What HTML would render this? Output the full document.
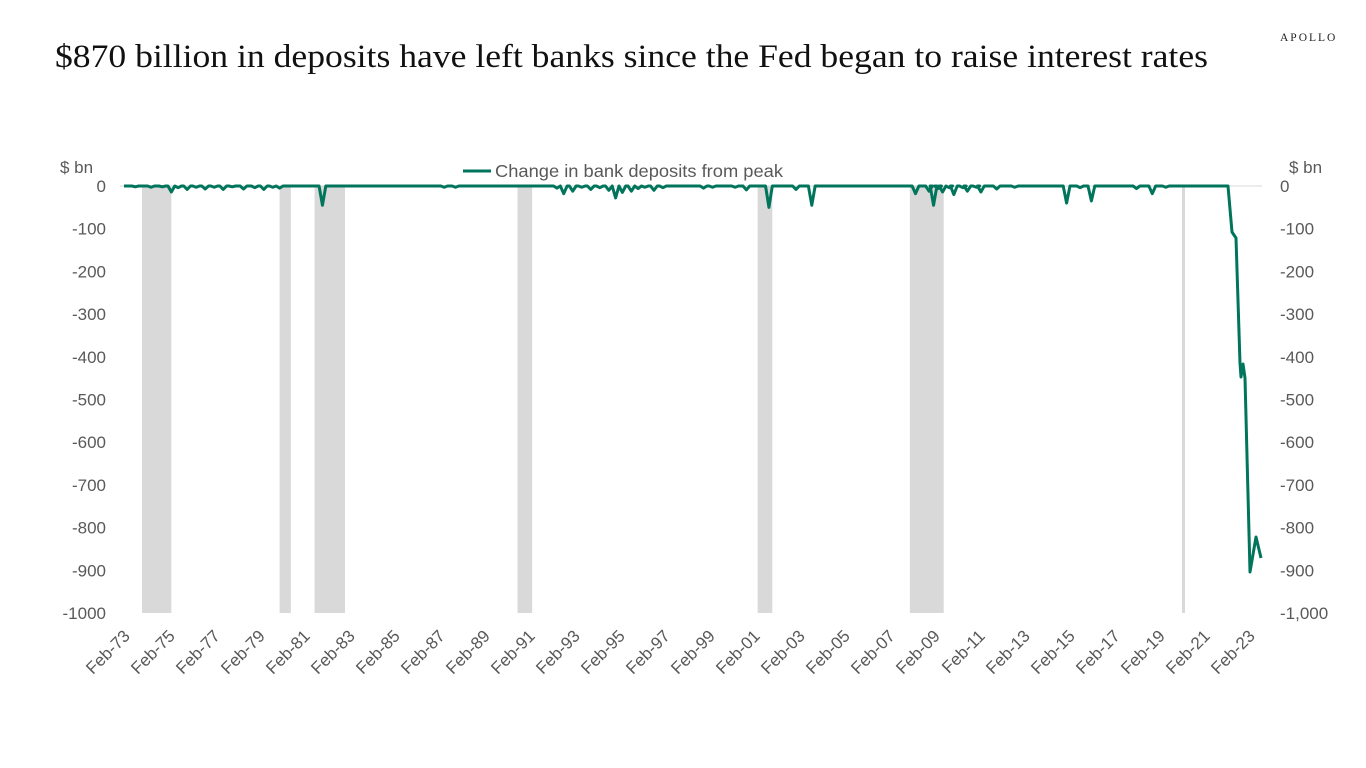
<!DOCTYPE html>
<html><head><meta charset="utf-8"><style>
html,body{margin:0;padding:0;background:#fff;}
svg{display:block;}
</style></head><body>
<svg id="s" width="1366" height="768" xmlns="http://www.w3.org/2000/svg">
<text x="55" y="67" font-family="'Liberation Serif',serif" font-size="33" fill="#111" textLength="1153" lengthAdjust="spacingAndGlyphs">$870 billion in deposits have left banks since the Fed began to raise interest rates</text>
<text x="1280" y="41" font-family="'Liberation Serif',serif" font-size="11.5" fill="#222" letter-spacing="2">APOLLO</text>
<g id="bars" fill="#d9d9d9"></g>
<line x1="120" y1="186" x2="1262" y2="186" stroke="#d9d9d9" stroke-width="1"/>
<g id="ylab" font-family="'Liberation Sans',sans-serif" font-size="17" fill="#595959"></g>
<g id="xlab" font-family="'Liberation Sans',sans-serif" font-size="17" fill="#595959"></g>
<text x="60" y="173" font-family="'Liberation Sans',sans-serif" font-size="17" fill="#595959">$ bn</text>
<text x="1289" y="173" font-family="'Liberation Sans',sans-serif" font-size="17" fill="#595959">$ bn</text>
<line x1="463" y1="171" x2="491" y2="171" stroke="#00755c" stroke-width="3"/>
<text x="495" y="177" font-family="'Liberation Sans',sans-serif" font-size="17.5" fill="#595959" textLength="288" lengthAdjust="spacingAndGlyphs">Change in bank deposits from peak</text>
<path id="ln" fill="none" stroke="#00755c" stroke-width="3" stroke-linejoin="round"/>
</svg>
<script>
var NS="http://www.w3.org/2000/svg";
function X(y){return 124+(y-1973.1)*22.55;}
function Y(v){return 186-v*0.427;}
function el(t,a,p,txt){var e=document.createElementNS(NS,t);for(var k in a)e.setAttribute(k,a[k]);if(txt!=null)e.textContent=txt;p.appendChild(e);return e;}
var bars=[[1973.9,1975.2],[1980.0,1980.5],[1981.55,1982.9],[1990.55,1991.2],[2001.2,2001.85],[2007.95,2009.45]];
var bg=document.getElementById('bars');
bars.forEach(function(b){el('rect',{x:X(b[0]),y:186,width:X(b[1])-X(b[0]),height:427},bg);});
el('rect',{x:1182,y:186,width:3,height:427},bg);
var yl=document.getElementById('ylab');
for(var i=0;i<=10;i++){var v=-100*i;var yy=Y(v)+6;
el('text',{x:106,y:yy,'text-anchor':'end'},yl,v==0?'0':String(v));
el('text',{x:1280,y:yy},yl,v==0?'0':(v==-1000?'-1,000':String(v)));}
var xl=document.getElementById('xlab');
for(var i=0;i<26;i++){var yr=73+2*i;yr=yr%100;var s='Feb-'+(yr<10?'0'+yr:yr);
var x=131+45*i,y=637;
el('text',{x:x,y:y,'text-anchor':'end',transform:'rotate(-45 '+x+' '+y+')'},xl,s);}
var dips=[[1973.6,-2],[1974.3,-3],[1974.8,-2],[1975.2,-14],[1975.5,-4],[1975.9,-8],[1976.3,-3],[1976.7,-7],[1977.1,-3],[1977.5,-8],[1977.9,-2],[1978.4,-7],[1978.9,-4],[1979.3,-8],[1979.7,-3],[1980.0,-5],
[1981.9,-45],[1987.3,-3],[1987.8,-3],
[1992.3,-5],[1992.6,-18],[1993.0,-12],[1993.4,-3],[1993.8,-8],[1994.2,-4],[1994.6,-10],[1994.9,-28],[1995.2,-15],[1995.6,-12],[1995.9,-6],[1996.2,-3],[1996.6,-10],[1997.0,-4],[1998.8,-5],[1999.2,-3],[2000.2,-3],[2000.7,-9],
[2001.7,-50],[2002.9,-8],[2003.6,-45],
[2008.2,-18],[2008.8,-12],[2009.0,-45],[2009.2,-6],[2009.4,-14],[2009.7,-4],[2009.9,-20],[2010.3,-4],[2010.5,-12],[2010.9,-3],[2011.1,-14],[2011.8,-7],[2012.6,-3],
[2014.9,-40],[2015.5,-4],[2016.0,-35],[2018.0,-6],[2018.7,-18],[2019.3,-3]];
var d='M'+X(1973.1)+' '+Y(0);
dips.forEach(function(p){d+=' L'+X(p[0]-0.15)+' '+Y(0)+' L'+X(p[0])+' '+Y(p[1])+' L'+X(p[0]+0.15)+' '+Y(0);});
d+=' L1228 186 L1232 232 L1236 238 L1240 363 L1241 377 L1243 364 L1245 378 L1250 572 L1256 537 L1261 558';
document.getElementById('ln').setAttribute('d',d);
</script>
</body></html>
